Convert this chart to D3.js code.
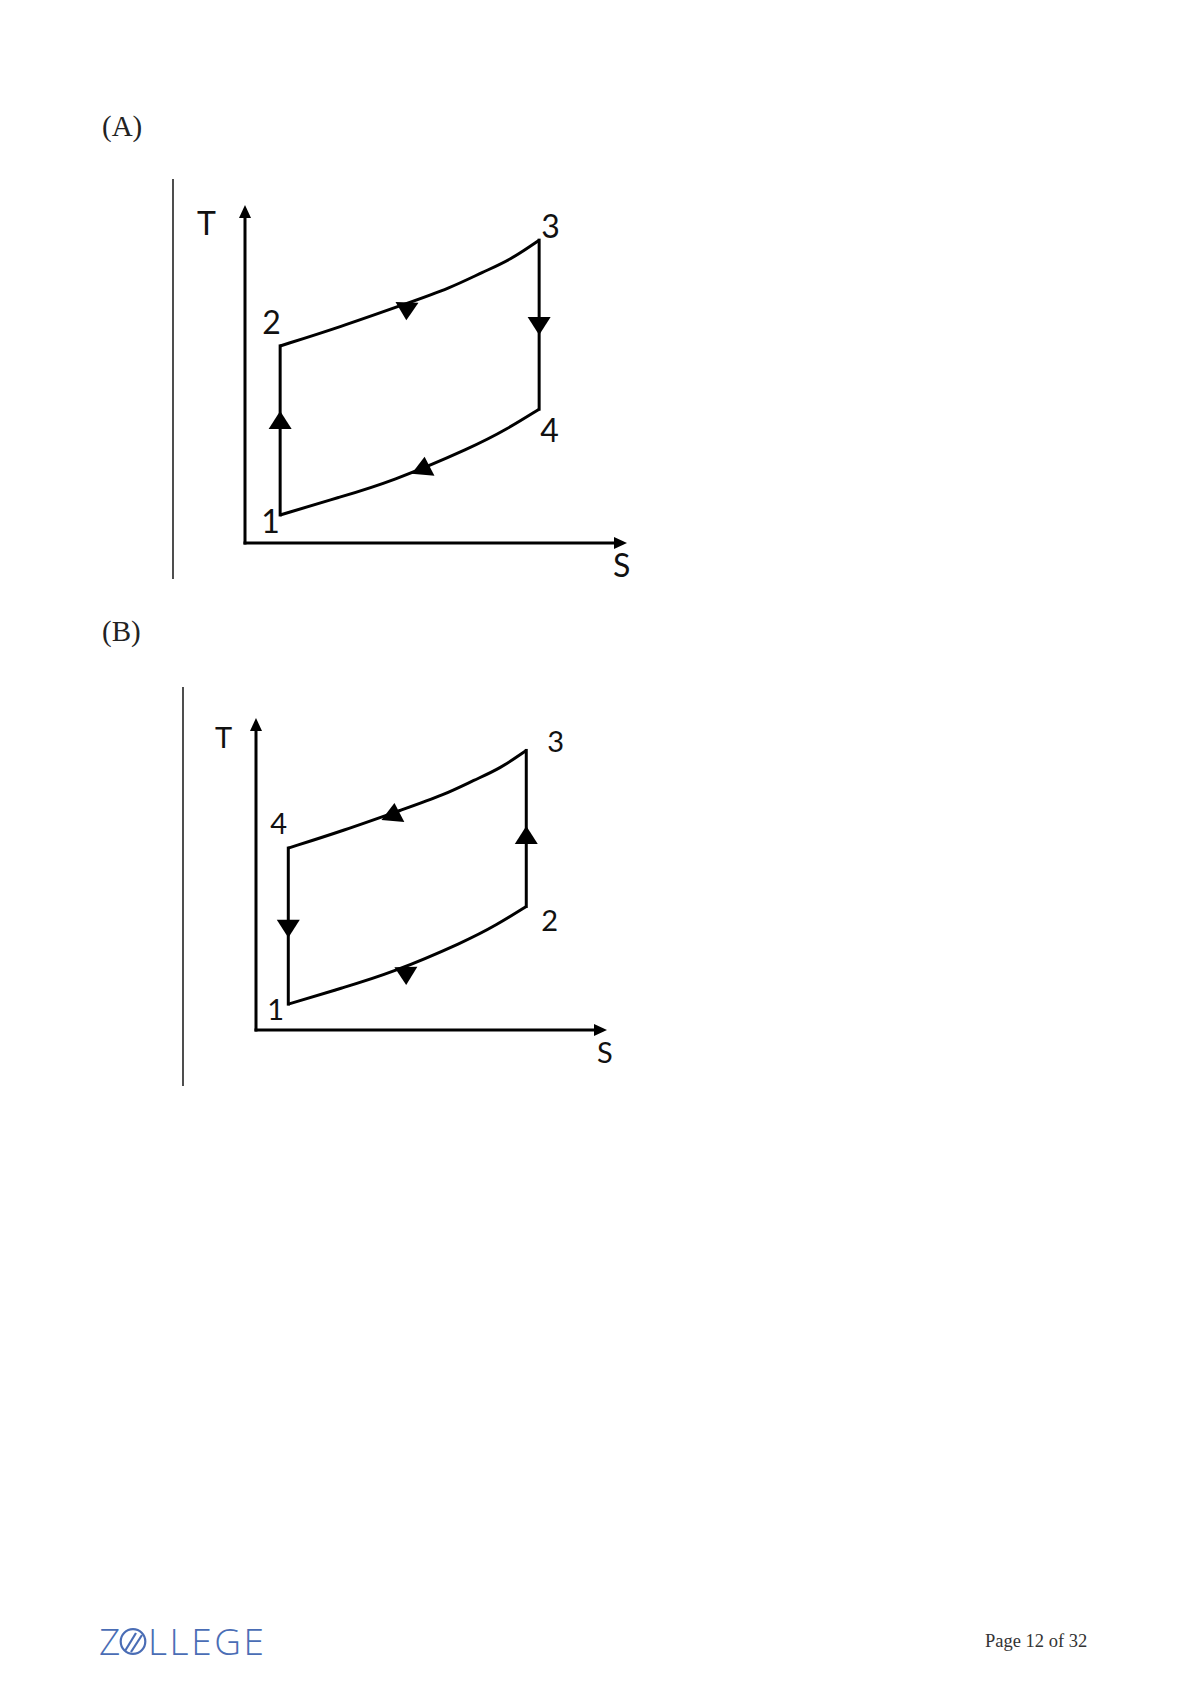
<!DOCTYPE html>
<html>
<head>
<meta charset="utf-8">
<script src="https://cdn.jsdelivr.net/npm/d3@7"></script>
<style>
  html, body { margin: 0; padding: 0; background: #fff; }
  svg { display: block; }
</style>
</head>
<body>
<div id="page"></div>
<script>
// ---------- Data (entropy s, temperature T, arbitrary units 0..10) ----------
// corners in order: bottom-left, top-left, top-right, bottom-right
const cornerS = [0.92, 0.92, 7.70, 7.70];
const cornerT = [0.83, 5.83, 8.96, 3.96];

// upper curve, left corner -> right corner
const upperS = [0.92, 2.49, 4.19, 5.37, 6.23, 6.94, 7.70];
const upperT = [5.83, 6.39, 7.07, 7.54, 8.02, 8.37, 8.96];

// lower curve, left corner -> right corner
const lowerS = [0.92, 2.49, 3.80, 5.97, 6.86, 7.70];
const lowerT = [0.83, 1.36, 1.80, 2.84, 3.37, 3.96];

// state labels at the corners
const labelsA = ["1", "2", "3", "4"];
const labelsB = ["1", "4", "3", "2"];

// direction arrows: base point (s, T) and tip direction (deg, screen)
const arrowSA = [0.92, 7.70, 4.24, 4.66];
const arrowTA = [3.37, 6.69, 7.12, 2.02];
const arrowDirA = [-90, 90, 92, -85];

const arrowSB = [0.92, 7.70, 3.90, 4.27];
const arrowTB = [3.53, 5.96, 6.70, 2.02];
const arrowDirB = [90, -90, -85, 89];

const axisLabels = ["T", "S"];

// ---------- Layout ----------
const width = 1190, height = 1684;

const panels = [
  {
    title: "(A)", titleY: 136,
    divX: 173, divY: [179, 579],
    sRange: [245, 627], tRange: [543, 205],
    labels: labelsA,
    labelOffsets: [[-19, 18], [-18, -12], [2, -2], [1, 33]],
    arrowS: arrowSA, arrowT: arrowTA, arrowDir: arrowDirA,
    tPos: [197, 235], sPos: [613, 577],
    fontSize: 32
  },
  {
    title: "(B)", titleY: 641,
    divX: 183, divY: [687, 1086],
    sRange: [256, 607], tRange: [1030, 718],
    labels: labelsB,
    labelOffsets: [[-21, 16], [-18, -14], [21, 2], [15, 25]],
    arrowS: arrowSB, arrowT: arrowTB, arrowDir: arrowDirB,
    tPos: [215, 748], sPos: [597, 1063],
    fontSize: 29
  }
];

const svg = d3.select("#page")
  .append("svg")
  .attr("width", width)
  .attr("height", height)
  .attr("viewBox", `0 0 ${width} ${height}`);

// triangle pointing along +x, base centred at origin
function tri(w, h) {
  const p = d3.path();
  p.moveTo(0, -w / 2);
  p.lineTo(h, 0);
  p.lineTo(0, w / 2);
  p.closePath();
  return p.toString();
}

panels.forEach(P => {
  const x = d3.scaleLinear().domain([0, 10]).range(P.sRange);
  const y = d3.scaleLinear().domain([0, 10]).range(P.tRange);
  const g = svg.append("g");

  // panel title
  g.append("text")
    .attr("x", 102)
    .attr("y", P.titleY)
    .attr("font-family", "'Liberation Serif', serif")
    .attr("font-size", 29)
    .attr("fill", "#222")
    .text(P.title);

  // thin page rule on the left
  g.append("line")
    .attr("x1", P.divX).attr("x2", P.divX)
    .attr("y1", P.divY[0]).attr("y2", P.divY[1])
    .attr("stroke", "#222")
    .attr("stroke-width", 1.6);

  // ---------- Axes ----------
  const xAxis = g.append("g")
    .attr("transform", `translate(0,${y(0)})`)
    .call(d3.axisBottom(x).ticks(0).tickSize(0).tickSizeOuter(0));
  const yAxis = g.append("g")
    .attr("transform", `translate(${x(0)},0)`)
    .call(d3.axisLeft(y).ticks(0).tickSize(0).tickSizeOuter(0));
  [xAxis, yAxis].forEach(a => {
    a.select(".domain").attr("stroke", "#000").attr("stroke-width", 3);
    a.selectAll(".tick").remove();
  });
  // square corner at the origin, stop short of the arrow tips
  xAxis.select(".domain").attr("d", `M${x(0) - 1.5},0H${x(10) - 8}`);
  yAxis.select(".domain").attr("d", `M0,${y(0) + 1.5}V${y(10) + 8}`);

  g.append("path")
    .attr("d", tri(12, 13))
    .attr("transform", `translate(${x(10) - 13},${y(0)})`)
    .attr("fill", "#000");
  g.append("path")
    .attr("d", tri(12, 13))
    .attr("transform", `translate(${x(0)},${y(10) + 13}) rotate(-90)`)
    .attr("fill", "#000");

  const lblFont = "Lato, 'Open Sans', sans-serif";
  g.append("text")
    .attr("x", P.tPos[0]).attr("y", P.tPos[1])
    .attr("font-family", lblFont)
    .attr("font-size", P.fontSize)
    .attr("fill", "#111")
    .text(axisLabels[0]);
  g.append("text")
    .attr("x", P.sPos[0]).attr("y", P.sPos[1])
    .attr("font-family", lblFont)
    .attr("font-size", P.fontSize)
    .attr("fill", "#111")
    .text(axisLabels[1]);

  // ---------- Cycle ----------
  const line = d3.line()
    .x(d => x(d[0]))
    .y(d => y(d[1]))
    .curve(d3.curveBasis);

  const upper = upperS.map((s, i) => [s, upperT[i]]);
  const lower = lowerS.map((s, i) => [s, lowerT[i]]);
  const corners = cornerS.map((s, i) => [s, cornerT[i]]);

  g.append("path")
    .attr("d", line(upper))
    .attr("fill", "none").attr("stroke", "#000").attr("stroke-width", 3);
  g.append("path")
    .attr("d", line(lower))
    .attr("fill", "none").attr("stroke", "#000").attr("stroke-width", 3);

  const straight = d3.line().x(d => x(d[0])).y(d => y(d[1]));
  g.append("path")
    .attr("d", straight([corners[0], corners[1]]))
    .attr("fill", "none").attr("stroke", "#000").attr("stroke-width", 3)
    .attr("stroke-linecap", "square");
  g.append("path")
    .attr("d", straight([corners[3], corners[2]]))
    .attr("fill", "none").attr("stroke", "#000").attr("stroke-width", 3)
    .attr("stroke-linecap", "square");

  // direction arrowheads
  g.selectAll(".dir")
    .data(P.arrowS.map((s, i) => ({ s, t: P.arrowT[i], a: P.arrowDir[i] })))
    .enter()
    .append("path")
    .attr("class", "dir")
    .attr("d", tri(23, 18))
    .attr("transform", d => `translate(${x(d.s)},${y(d.t)}) rotate(${d.a})`)
    .attr("fill", "#000");

  // state labels
  g.selectAll(".state")
    .data(corners)
    .enter()
    .append("text")
    .attr("class", "state")
    .attr("x", (d, i) => x(d[0]) + P.labelOffsets[i][0])
    .attr("y", (d, i) => y(d[1]) + P.labelOffsets[i][1])
    .attr("font-family", lblFont)
    .attr("font-size", P.fontSize)
    .attr("fill", "#111")
    .text((d, i) => P.labels[i]);
});

// ---------- Footer ----------
const logoColor = "#4a6db5";
const logo = svg.append("g");
logo.append("text")
  .attr("x", 99).attr("y", 1655)
  .attr("font-family", "'Open Sans', sans-serif")
  .attr("font-weight", 300)
  .attr("font-size", 37)
  .attr("fill", logoColor)
  .text("Z");
logo.append("circle")
  .attr("cx", 133).attr("cy", 1641.5).attr("r", 12.3)
  .attr("fill", "none").attr("stroke", logoColor).attr("stroke-width", 2.2);
logo.append("line")
  .attr("x1", 125).attr("y1", 1651).attr("x2", 136).attr("y2", 1633)
  .attr("stroke", logoColor).attr("stroke-width", 2.2);
logo.append("line")
  .attr("x1", 131).attr("y1", 1652).attr("x2", 142).attr("y2", 1635)
  .attr("stroke", logoColor).attr("stroke-width", 2.2);
logo.append("text")
  .attr("x", 148).attr("y", 1655)
  .attr("font-family", "'Open Sans', sans-serif")
  .attr("font-weight", 300)
  .attr("font-size", 37)
  .attr("fill", logoColor)
  .attr("textLength", 116)
  .attr("lengthAdjust", "spacing")
  .text("LLEGE");

svg.append("text")
  .attr("x", 985).attr("y", 1647)
  .attr("font-family", "'Liberation Serif', serif")
  .attr("font-size", 18.5)
  .attr("fill", "#333")
  .text("Page 12 of 32");
</script>
</body>
</html>
